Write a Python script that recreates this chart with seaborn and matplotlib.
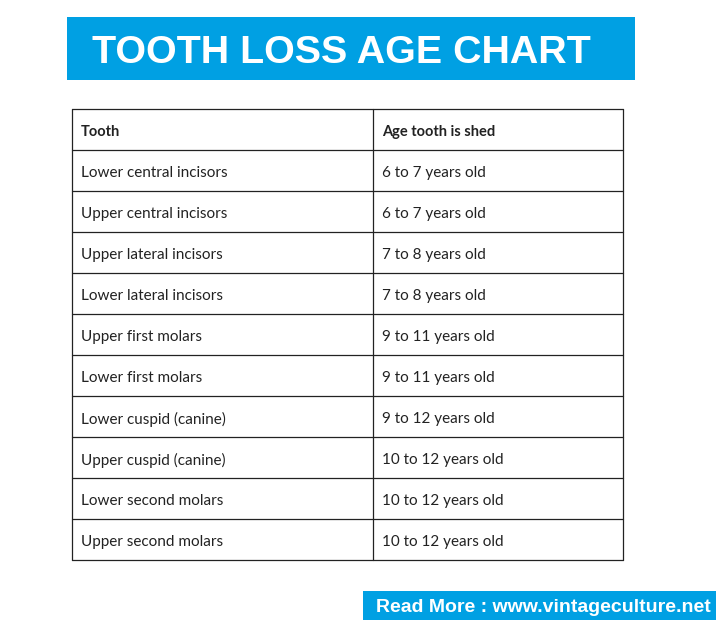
import matplotlib
matplotlib.use("Agg")
import matplotlib.pyplot as plt
import seaborn as sns

title = "TOOTH LOSS AGE CHART"
headers = ["Tooth", "Age tooth is shed"]
teeth = ["Lower central incisors", "Upper central incisors", "Upper lateral incisors",
         "Lower lateral incisors", "Upper first molars", "Lower first molars",
         "Lower cuspid (canine)", "Upper cuspid (canine)", "Lower second molars",
         "Upper second molars"]
ages = ["6 to 7 years old", "6 to 7 years old", "7 to 8 years old", "7 to 8 years old",
        "9 to 11 years old", "9 to 11 years old", "9 to 12 years old",
        "10 to 12 years old", "10 to 12 years old", "10 to 12 years old"]
footer = "Read More : www.vintageculture.net"

sns.set_theme(style="white")
BLUE = "#00a0e3"
W, H = 716, 620
fig = plt.figure(figsize=(W / 100, H / 100), dpi=100)
ax = fig.add_axes([0, 0, 1, 1])
ax.set_xlim(0, W)
ax.set_ylim(H, 0)
ax.axis("off")

# title banner
ax.add_patch(plt.Rectangle((67, 17), 568, 63, color=BLUE, lw=0))
ax.text(92, 49, title, color="white", fontsize=28.4, fontweight="bold",
        family="Liberation Sans", va="center_baseline", ha="left")

# table
x0, xm, x1 = 72, 373, 623
top, rh = 109, 41
n = len(teeth) + 1
bottom = top + n * rh
lc = "#222222"
for i in range(n + 1):
    ax.plot([x0, x1], [top + i * rh] * 2, color=lc, lw=0.9)
for x in (x0, xm, x1):
    ax.plot([x, x], [top, bottom], color=lc, lw=0.9)
rows = [headers] + [[t, a] for t, a in zip(teeth, ages)]
for i, (a, b) in enumerate(rows):
    y = top + i * rh + rh / 2 + 1
    fw = "bold" if i == 0 else "normal"
    fs = 10.5 if i == 0 else 11
    for x, s in ((x0 + 9, a), (xm + 9, b)):
        ax.text(x, y, s, fontsize=fs, fontweight=fw, family="Lato",
                color="#222222", va="center_baseline", ha="left")

# footer
ax.add_patch(plt.Rectangle((363, 591), 353, 29, color=BLUE, lw=0))
ax.text(543, 606, footer, color="white", fontsize=14, fontweight="bold",
        family="Liberation Sans", va="center_baseline", ha="center")

fig.savefig("out.png", dpi=100)
